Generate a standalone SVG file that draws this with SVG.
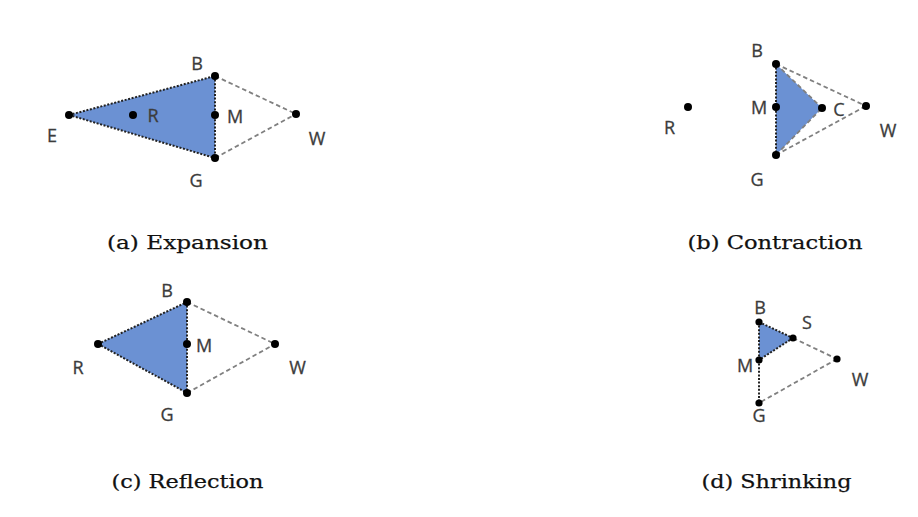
<svg xmlns="http://www.w3.org/2000/svg" width="918" height="517" viewBox="0 0 918 517">
<style>
.fill{fill:#6b91d3;stroke:none}
.dot{stroke:#222;stroke-width:2;stroke-dasharray:2 1.6;fill:none}
.dash{stroke:#808080;stroke-width:1.8;stroke-dasharray:4.5 3;fill:none}
.pt{fill:#000}
.lbl{font-family:"Open Sans","Liberation Sans",sans-serif;font-size:18px;fill:#3c3c3c;text-anchor:middle;stroke:#3c3c3c;stroke-width:0.3}
.cap{font-family:"DejaVu Serif","Liberation Serif",serif;font-size:19px;fill:#111;text-anchor:middle;stroke:#111;stroke-width:0.25}
</style>
<rect width="918" height="517" fill="#fff"/>

<!-- (a) Expansion -->
<g id="panel-a">
  <polygon class="fill" points="69,115 215,76 215,158"/>
  <g id="a-connectors">
    <line class="dot" x1="69" y1="115" x2="215" y2="76"/>
    <line class="dot" x1="69" y1="115" x2="215" y2="158"/>
    <line class="dot" x1="215" y1="76" x2="215" y2="158"/>
    <line class="dash" x1="215" y1="76" x2="296" y2="114"/>
    <line class="dash" x1="215" y1="158" x2="296" y2="114"/>
  </g>
  <g id="a-E"><circle class="pt" cx="69" cy="115" r="4"/><text class="lbl" x="52" y="141.5">E</text></g>
  <g id="a-R"><circle class="pt" cx="133" cy="115" r="4"/><text class="lbl" x="153" y="122">R</text></g>
  <g id="a-B"><circle class="pt" cx="215" cy="76" r="4"/><text class="lbl" x="197" y="69.5">B</text></g>
  <g id="a-M"><circle class="pt" cx="215" cy="115" r="4"/><text class="lbl" x="235" y="122.5">M</text></g>
  <g id="a-G"><circle class="pt" cx="215" cy="158" r="4"/><text class="lbl" x="196" y="187">G</text></g>
  <g id="a-W"><circle class="pt" cx="296" cy="114" r="4"/><text class="lbl" x="317" y="144.5">W</text></g>
  <text class="cap" x="187.5" y="249" textLength="161" lengthAdjust="spacingAndGlyphs">(a) Expansion</text>
</g>

<!-- (b) Contraction -->
<g id="panel-b">
  <polygon class="fill" points="776,64 822,108 776,155"/>
  <g id="b-connectors">
    <line class="dot" x1="776" y1="64" x2="776" y2="155"/>
    <line class="dash" x1="776" y1="64" x2="822" y2="108"/>
    <line class="dash" x1="776" y1="155" x2="822" y2="108"/>
    <line class="dash" x1="776" y1="64" x2="866" y2="106"/>
    <line class="dash" x1="776" y1="155" x2="866" y2="106"/>
  </g>
  <g id="b-R"><circle class="pt" cx="688" cy="107" r="4"/><text class="lbl" x="669.5" y="134">R</text></g>
  <g id="b-B"><circle class="pt" cx="776" cy="64" r="4"/><text class="lbl" x="757" y="56.5">B</text></g>
  <g id="b-M"><circle class="pt" cx="776" cy="107" r="4"/><text class="lbl" x="759" y="113.5">M</text></g>
  <g id="b-G"><circle class="pt" cx="776" cy="155" r="4"/><text class="lbl" x="757" y="185.5">G</text></g>
  <g id="b-C"><circle class="pt" cx="822" cy="108" r="4"/><text class="lbl" x="839" y="115.5">C</text></g>
  <g id="b-W"><circle class="pt" cx="866" cy="106" r="4"/><text class="lbl" x="888" y="137">W</text></g>
  <text class="cap" x="775" y="249" textLength="175" lengthAdjust="spacingAndGlyphs">(b) Contraction</text>
</g>

<!-- (c) Reflection -->
<g id="panel-c">
  <polygon class="fill" points="98,344 187,302 187,393"/>
  <g id="c-connectors">
    <line class="dot" x1="98" y1="344" x2="187" y2="302"/>
    <line class="dot" x1="98" y1="344" x2="187" y2="393"/>
    <line class="dot" x1="187" y1="302" x2="187" y2="393"/>
    <line class="dash" x1="187" y1="302" x2="275" y2="344"/>
    <line class="dash" x1="187" y1="393" x2="275" y2="344"/>
  </g>
  <g id="c-R"><circle class="pt" cx="98" cy="344" r="4"/><text class="lbl" x="78" y="374">R</text></g>
  <g id="c-B"><circle class="pt" cx="187" cy="302" r="4"/><text class="lbl" x="167" y="296.5">B</text></g>
  <g id="c-M"><circle class="pt" cx="187" cy="344" r="4"/><text class="lbl" x="204" y="352">M</text></g>
  <g id="c-G"><circle class="pt" cx="187" cy="393" r="4"/><text class="lbl" x="167" y="420.5">G</text></g>
  <g id="c-W"><circle class="pt" cx="275" cy="344" r="4"/><text class="lbl" x="297.5" y="374">W</text></g>
  <text class="cap" x="187.5" y="488" textLength="152" lengthAdjust="spacingAndGlyphs">(c) Reflection</text>
</g>

<!-- (d) Shrinking -->
<g id="panel-d">
  <polygon class="fill" points="759,322 793,338 759,360"/>
  <g id="d-connectors">
    <line class="dot" x1="759" y1="322" x2="759" y2="360"/>
    <line class="dot" x1="759" y1="322" x2="793" y2="338"/>
    <line class="dot" x1="793" y1="338" x2="759" y2="360"/>
    <line class="dot" x1="759" y1="360" x2="759" y2="403"/>
    <line class="dash" x1="793" y1="338" x2="837" y2="359"/>
    <line class="dash" x1="837" y1="359" x2="759" y2="403"/>
  </g>
  <g id="d-B"><circle class="pt" cx="759" cy="322" r="3.6"/><text class="lbl" x="760" y="314">B</text></g>
  <g id="d-S"><circle class="pt" cx="793" cy="338" r="3.6"/><text class="lbl" x="807" y="329">S</text></g>
  <g id="d-M"><circle class="pt" cx="759" cy="360" r="3.6"/><text class="lbl" x="745" y="372">M</text></g>
  <g id="d-G"><circle class="pt" cx="759" cy="403" r="3.6"/><text class="lbl" x="759" y="422">G</text></g>
  <g id="d-W"><circle class="pt" cx="837" cy="359" r="3.6"/><text class="lbl" x="860" y="385.5">W</text></g>
  <text class="cap" x="776.5" y="488" textLength="150" lengthAdjust="spacingAndGlyphs">(d) Shrinking</text>
</g>
</svg>
